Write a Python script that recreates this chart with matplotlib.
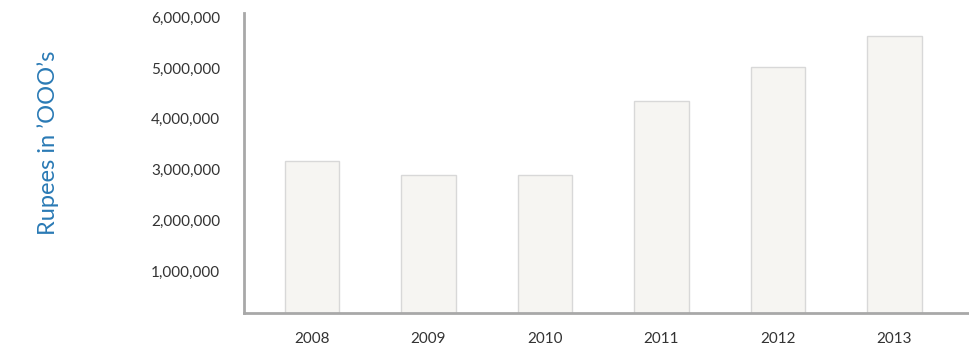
import matplotlib
matplotlib.use("Agg")
import matplotlib.pyplot as plt
from matplotlib.ticker import FuncFormatter

years = ["2008", "2009", "2010", "2011", "2012", "2013"]
values = [3170000, 2890000, 2890000, 4350000, 5020000, 5630000]
yticks = [1000000, 2000000, 3000000, 4000000, 5000000, 6000000]

plt.rcParams['font.family'] = ['Lato', 'DejaVu Sans']

fig = plt.figure(figsize=(9.69, 3.49), dpi=100)
ax = fig.add_axes([244/969, 36/349, 725/969, 300/349])

x = list(range(len(years)))
ax.bar(x, values, width=0.465, color="#f6f5f2", edgecolor="#d8d8d8", linewidth=1.0, zorder=2)

ax.set_xlim(-0.584, 5.64)
ax.set_ylim(180000, 6080000)
ax.set_xticks(x)
ax.set_xticklabels(years)
ax.set_yticks(yticks)
ax.yaxis.set_major_formatter(FuncFormatter(lambda v, p: f"{int(v):,}"))
ax.tick_params(axis='both', length=0, labelsize=11, colors="#333333")
ax.tick_params(axis='y', pad=17)
ax.tick_params(axis='x', pad=14)

for s in ['top', 'right']:
    ax.spines[s].set_visible(False)
for s in ['left', 'bottom']:
    ax.spines[s].set_color("#a8a8a8")
    ax.spines[s].set_linewidth(2)

fig.text(48/969, 1 - 143/349, "Rupees in \u2019OOO\u2019s", rotation=90, color="#2a7ab5",
         fontsize=17, ha="center", va="center")

fig.savefig("out.png", dpi=100)
